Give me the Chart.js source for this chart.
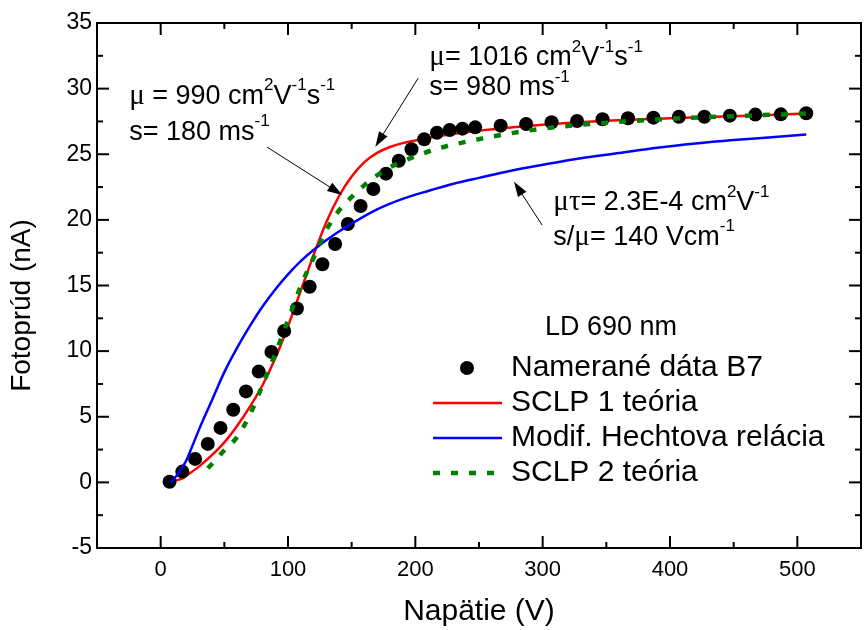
<!DOCTYPE html>
<html>
<head>
<meta charset="utf-8">
<title>Fotoprúd – Napätie</title>
<script src="https://cdn.jsdelivr.net/npm/chart.js@4.4.1/dist/chart.umd.min.js"></script>
<style>
  html, body { margin: 0; padding: 0; background: #fff; }
  #chart { display: block; }
</style>
</head>
<body>
<canvas id="chart" width="868" height="630"></canvas>
<script>
// measured data, sample B7
const measuredV = [7, 17, 27, 37, 47, 57, 67, 77, 87, 97, 107, 117, 127, 137, 147, 157, 167, 177, 187, 197,
  207, 217, 227, 237, 247, 267, 287, 307, 327, 347, 367, 387, 407, 427, 447, 467, 487, 507];
const measuredI = [0.05, 0.82, 1.79, 2.93, 4.15, 5.53, 6.93, 8.44, 9.94, 11.54, 13.25, 14.91, 16.62, 18.16, 19.69,
  21.06, 22.35, 23.52, 24.51, 25.38, 26.14, 26.64, 26.85, 26.95, 27.05, 27.18, 27.31, 27.44, 27.53, 27.67,
  27.74, 27.79, 27.86, 27.86, 27.94, 28.02, 28.04, 28.12];

// SCLP 1 theory
const sclp1V = [12, 17, 20, 30, 40, 50, 60, 70, 80, 90, 100, 110, 120, 130, 140, 150, 160, 170, 180, 190, 200,
  220, 250, 300, 350, 400, 450, 507];
const sclp1I = [0.15, 0.3, 0.5, 1.2, 2.05, 3.05, 4.3, 5.75, 7.4, 9.45, 11.9, 14.6, 17.3, 19.8, 21.8, 23.3, 24.4,
  25.1, 25.55, 25.85, 26.05, 26.4, 26.8, 27.25, 27.55, 27.75, 27.9, 28.1];

// modified Hecht relation
const hechtV = [8, 12, 16, 20, 25, 30, 40, 50, 60, 70, 80, 90, 100, 110, 120, 130, 140, 150, 170, 190, 210, 230,
  250, 275, 300, 330, 360, 390, 420, 450, 480, 507];
const hechtI = [0.0, 0.45, 1.0, 1.65, 2.8, 4.0, 6.2, 8.4, 10.25, 11.9, 13.4, 14.7, 15.85, 16.85, 17.7, 18.45, 19.12,
  19.72, 20.8, 21.6, 22.2, 22.75, 23.2, 23.75, 24.2, 24.7, 25.1, 25.5, 25.82, 26.08, 26.3, 26.5];

// SCLP 2 theory
const sclp2V = [37, 45, 50, 60, 70, 80, 90, 100, 110, 120, 130, 140, 150, 160, 170, 180, 190, 200, 220, 250, 275,
  300, 350, 400, 450, 508];
const sclp2I = [1.07, 1.9, 2.45, 3.45, 5.15, 7.4, 9.8, 12.35, 14.95, 17.1, 19.2, 20.7, 21.75, 22.65, 23.4, 24.0,
  24.45, 24.85, 25.5, 26.15, 26.6, 26.95, 27.4, 27.7, 27.9, 28.1];

const xTicks = [0, 100, 200, 300, 400, 500];
const yTicks = [-5, 0, 5, 10, 15, 20, 25, 30, 35];

const SANS = '"Liberation Sans", Arial, sans-serif';
const SERIF = '"Liberation Serif", "Times New Roman", serif';

const toPoints = (xs, ys) => xs.map((v, i) => ({ x: v, y: ys[i] }));

// annotation texts: [text, kind]  n = normal, g = greek, s = superscript
const annotations = [
  { x: -24.7, y: 28.85, parts: [['μ', 'g'], [' = 990 cm', 'n'], ['2', 's'], ['V', 'n'], ['-1', 's'], ['s', 'n'], ['-1', 's']] },
  { x: -24.7, y: 26.1, parts: [['s= 180 ms', 'n'], ['-1', 's']] },
  { x: 211, y: 31.8, parts: [['μ', 'g'], ['= 1016 cm', 'n'], ['2', 's'], ['V', 'n'], ['-1', 's'], ['s', 'n'], ['-1', 's']] },
  { x: 211, y: 29.5, parts: [['s= 980 ms', 'n'], ['-1', 's']] },
  { x: 308.4, y: 20.75, parts: [['μτ', 'g'], ['= 2.3E-4 cm', 'n'], ['2', 's'], ['V', 'n'], ['-1', 's']] },
  { x: 308.4, y: 18.1, parts: [['s/', 'n'], ['μ', 'g'], ['= 140 Vcm', 'n'], ['-1', 's']] }
];
const arrows = [
  { from: [83.5, 25.55], to: [142.6, 21.9] },
  { from: [202.3, 30.8], to: [168.6, 25.58] },
  { from: [299.6, 19.6], to: [277.5, 22.9] }
];

function drawRich(ctx, x, y, parts, size) {
  let cx = x;
  parts.forEach(([txt, kind]) => {
    let fs = size, dy = 0, fam = SANS;
    if (kind === 's') { fs = Math.round(size * 0.64); dy = -size * 0.5; }
    if (kind === 'g') { fam = SERIF; fs = Math.round(size * 1.08); }
    ctx.font = fs + 'px ' + fam;
    ctx.fillText(txt, cx, y + dy);
    cx += ctx.measureText(txt).width;
  });
}

function drawArrow(ctx, x1, y1, x2, y2) {
  const a = Math.atan2(y2 - y1, x2 - x1);
  const len = 15, hw = 5;
  ctx.lineWidth = 1;
  ctx.beginPath();
  ctx.moveTo(x1, y1);
  ctx.lineTo(x2 - len * 0.7 * Math.cos(a), y2 - len * 0.7 * Math.sin(a));
  ctx.stroke();
  ctx.beginPath();
  ctx.moveTo(x2, y2);
  ctx.lineTo(x2 - len * Math.cos(a) + hw * Math.sin(a), y2 - len * Math.sin(a) - hw * Math.cos(a));
  ctx.lineTo(x2 - len * Math.cos(a) - hw * Math.sin(a), y2 - len * Math.sin(a) + hw * Math.cos(a));
  ctx.closePath();
  ctx.fill();
}

const framePlugin = {
  id: 'frame',
  afterDraw(chart) {
    const ctx = chart.ctx;
    const { left, right, top, bottom } = chart.chartArea;
    const xs = chart.scales.x, ys = chart.scales.y;
    ctx.save();
    ctx.strokeStyle = '#000';
    ctx.fillStyle = '#000';
    ctx.lineWidth = 2;
    ctx.strokeRect(left, top, right - left, bottom - top);

    const seg = (x1, y1, x2, y2) => { ctx.beginPath(); ctx.moveTo(x1, y1); ctx.lineTo(x2, y2); ctx.stroke(); };
    const xMinor = xTicks.slice(1).map((v, i) => (v + xTicks[i]) / 2);
    const yMinor = yTicks.slice(1).map((v, i) => (v + yTicks[i]) / 2);
    xTicks.forEach(v => { const p = xs.getPixelForValue(v); seg(p, bottom, p, bottom - 12); seg(p, top, p, top + 12); });
    xMinor.forEach(v => { const p = xs.getPixelForValue(v); seg(p, bottom, p, bottom - 6); seg(p, top, p, top + 6); });
    yTicks.forEach(v => { const p = ys.getPixelForValue(v); seg(left, p, left + 12, p); seg(right, p, right - 12, p); });
    yMinor.forEach(v => { const p = ys.getPixelForValue(v); seg(left, p, left + 6, p); seg(right, p, right - 6, p); });

    // y axis title
    ctx.save();
    ctx.translate(22, (top + bottom) / 2 + 20);
    ctx.rotate(-Math.PI / 2);
    ctx.textAlign = 'center';
    ctx.textBaseline = 'middle';
    ctx.font = '28px ' + SANS;
    ctx.fillText('Fotoprúd (nA)', 0, 0);
    ctx.restore();

    // annotations
    ctx.textAlign = 'left';
    ctx.textBaseline = 'alphabetic';
    annotations.forEach(a => drawRich(ctx, xs.getPixelForValue(a.x), ys.getPixelForValue(a.y), a.parts, 27));
    arrows.forEach(a => drawArrow(ctx, xs.getPixelForValue(a.from[0]), ys.getPixelForValue(a.from[1]),
      xs.getPixelForValue(a.to[0]), ys.getPixelForValue(a.to[1])));

    // legend
    ctx.font = '27px ' + SANS;
    ctx.fillText('LD 690 nm', 545, 335);
    const ds = chart.data.datasets;
    let rowY = 368;
    ds.forEach(d => {
      if (d.showLine) {
        ctx.save();
        ctx.strokeStyle = d.borderColor;
        ctx.lineWidth = d.borderWidth;
        ctx.setLineDash(d.borderDash || []);
        seg(433, rowY, 502, rowY);
        ctx.restore();
      } else {
        ctx.beginPath();
        ctx.arc(467, rowY, d.pointRadius, 0, Math.PI * 2);
        ctx.fill();
      }
      ctx.textBaseline = 'middle';
      ctx.font = '30px ' + SANS;
      ctx.fillText(d.label, 511, rowY);
      rowY += 35;
    });
    ctx.restore();
  }
};

new Chart(document.getElementById('chart'), {
  type: 'scatter',
  data: {
    datasets: [
      {
        label: 'Namerané dáta B7',
        data: toPoints(measuredV, measuredI),
        backgroundColor: '#000',
        borderWidth: 0,
        pointRadius: 7,
        showLine: false,
        order: 2
      },
      {
        label: 'SCLP 1 teória',
        data: toPoints(sclp1V, sclp1I),
        borderColor: '#ff0000',
        borderWidth: 2.5,
        pointRadius: 0,
        showLine: true,
        cubicInterpolationMode: 'monotone',
        order: 3
      },
      {
        label: 'Modif. Hechtova relácia',
        data: toPoints(hechtV, hechtI),
        borderColor: '#0000ff',
        borderWidth: 2.5,
        pointRadius: 0,
        showLine: true,
        cubicInterpolationMode: 'monotone',
        order: 1
      },
      {
        label: 'SCLP 2 teória',
        data: toPoints(sclp2V, sclp2I),
        borderColor: '#008000',
        borderWidth: 4.5,
        borderDash: [7, 11],
        pointRadius: 0,
        showLine: true,
        cubicInterpolationMode: 'monotone',
        order: 0
      }
    ]
  },
  options: {
    responsive: false,
    animation: false,
    devicePixelRatio: 1,
    layout: { padding: { top: 23, right: 2, left: 0, bottom: 0 } },
    plugins: { legend: { display: false }, tooltip: { enabled: false } },
    scales: {
      x: {
        type: 'linear',
        min: -50,
        max: 550,
        afterBuildTicks: s => { s.ticks = xTicks.map(v => ({ value: v })); },
        afterFit: s => { s.height = 82; },
        grid: { display: false, drawTicks: false },
        border: { display: false },
        ticks: { color: '#000', padding: 9, maxRotation: 0, autoSkip: false, font: { family: SANS, size: 22 } },
        title: { display: true, text: 'Napätie (V)', color: '#000', padding: { top: 0, bottom: 0 }, font: { family: SANS, size: 30 } }
      },
      y: {
        type: 'linear',
        min: -5,
        max: 35,
        afterBuildTicks: s => { s.ticks = yTicks.map(v => ({ value: v })); },
        afterFit: s => { s.width = 97; },
        grid: { display: false, drawTicks: false },
        border: { display: false },
        ticks: { color: '#000', padding: 5, autoSkip: false, font: { family: SANS, size: 23 } }
      }
    }
  },
  plugins: [framePlugin]
});
</script>
</body>
</html>
